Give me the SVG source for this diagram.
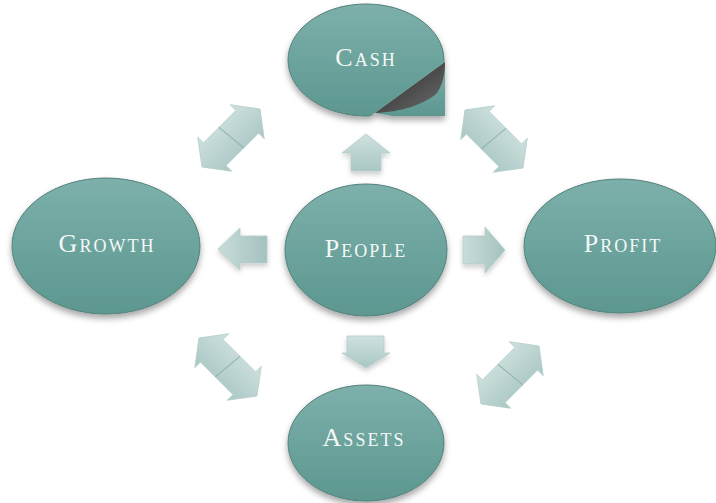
<svg xmlns="http://www.w3.org/2000/svg" width="716" height="503" viewBox="0 0 716 503">
<defs>
<linearGradient id="teal" x1="0" y1="0" x2="0" y2="1">
<stop offset="0" stop-color="#7db0aa"/>
<stop offset="1" stop-color="#5c9790"/>
</linearGradient>
<linearGradient id="pale" x1="0" y1="0" x2="0" y2="1">
<stop offset="0" stop-color="#cfe1df"/>
<stop offset="1" stop-color="#a9c7c3"/>
</linearGradient>
<linearGradient id="paleH" x1="0" y1="0" x2="1" y2="0">
<stop offset="0" stop-color="#c9dcda"/>
<stop offset="1" stop-color="#a4c2be"/>
</linearGradient>
<linearGradient id="curl" x1="0" y1="0" x2="1" y2="1">
<stop offset="0" stop-color="#8a8a8a"/>
<stop offset="0.5" stop-color="#4a4a4a"/>
<stop offset="1" stop-color="#6d6d6d"/>
</linearGradient>
<filter id="sh" x="-20%" y="-20%" width="140%" height="150%">
<feDropShadow dx="0" dy="4" stdDeviation="3" flood-color="#000" flood-opacity="0.35"/>
</filter>
<filter id="ash" x="-20%" y="-20%" width="140%" height="150%">
<feDropShadow dx="0" dy="3" stdDeviation="2.5" flood-color="#000" flood-opacity="0.2"/>
</filter>
<clipPath id="cashClip">
<polygon points="280,0 460,0 460,51 280,182"/>
</clipPath>
<path id="dbl" d="M-41,0 L-23,-24 L-23,-16 L23,-16 L23,-24 L41,0 L23,24 L23,16 L-23,16 L-23,24 Z"/>
</defs>
<style>
.node{fill:url(#teal);stroke:#54807b;stroke-width:1}
.lbl{font-family:"Liberation Serif","DejaVu Serif",serif;font-size:26px;font-variant:small-caps;fill:#f4f8f6;text-anchor:middle;letter-spacing:2px}
.arr{fill:url(#pale);stroke:#b4cdca;stroke-width:0.8}
.arrH{fill:url(#paleH);stroke:#b4cdca;stroke-width:0.8}
.split{stroke:#8fb0ac;stroke-width:1;fill:none}
</style>

<g id="connectors">
<g id="arrow-up" filter="url(#ash)"><polygon class="arr" points="366,134 390,153 381,153 381,171 351,171 351,153 342,153"/></g>
<g id="arrow-down" filter="url(#ash)"><polygon class="arr" points="347,336 384,336 384,353 390,353 366,368 342,353 347,353"/></g>
<g id="arrow-left" filter="url(#ash)"><polygon class="arrH" points="218,249 240,228 240,236 267,236 267,263 240,263 240,270"/></g>
<g id="arrow-right" filter="url(#ash)"><polygon class="arrH" points="463,236 485,236 485,227 505,250 485,273 485,264 463,264"/></g>
<g id="arrow-tl" transform="translate(231,138) rotate(-45)"><use href="#dbl" class="arr"/><line class="split" x1="-1" y1="-16" x2="2" y2="16"/></g>
<g id="arrow-tr" transform="translate(494,139) rotate(45)"><use href="#dbl" class="arr"/><line class="split" x1="1" y1="-16" x2="-2" y2="16"/></g>
<g id="arrow-bl" transform="translate(228,367) rotate(45)"><use href="#dbl" class="arr"/><line class="split" x1="1" y1="-16" x2="-2" y2="16"/></g>
<g id="arrow-br" transform="translate(510,375) rotate(-45)"><use href="#dbl" class="arr"/><line class="split" x1="-1" y1="-16" x2="2" y2="16"/></g>
</g>

<g id="cash">
<g filter="url(#sh)">
<ellipse class="node" cx="366" cy="60" rx="78" ry="56" clip-path="url(#cashClip)"/>
<polygon fill="url(#teal)" points="445,62 445,116 392,116 375,113"/>
</g>
<path d="M445,62 L375,113 C400,112 424,105 437,93 C443,84 445,73 445,62 Z" fill="url(#curl)"/>
<text class="lbl" x="366" y="66">Cash</text>
</g>

<g id="growth">
<ellipse class="node" cx="106" cy="246" rx="94" ry="68" filter="url(#sh)"/>
<text class="lbl" x="107" y="252">Growth</text>
</g>

<g id="people">
<ellipse class="node" cx="366" cy="250" rx="81" ry="66" filter="url(#sh)"/>
<text class="lbl" x="366" y="257">People</text>
</g>

<g id="profit">
<ellipse class="node" cx="620" cy="246" rx="96" ry="67" filter="url(#sh)"/>
<text class="lbl" x="623" y="252">Profit</text>
</g>

<g id="assets">
<ellipse class="node" cx="366" cy="443" rx="78" ry="58" filter="url(#sh)"/>
<text class="lbl" x="364" y="446">Assets</text>
</g>
</svg>
